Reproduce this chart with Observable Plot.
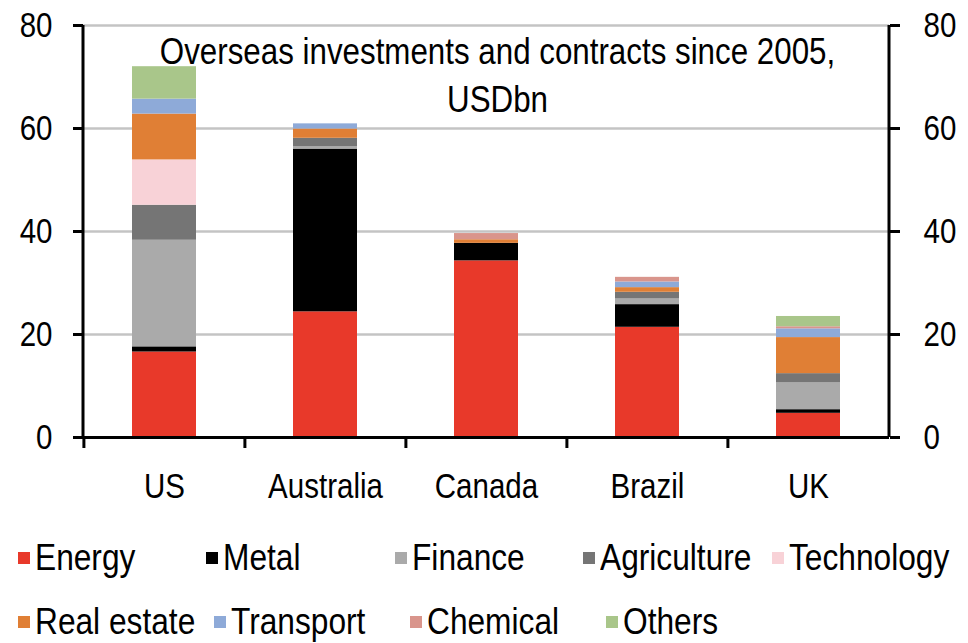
<!DOCTYPE html>
<html>
<head>
<meta charset="utf-8">
<script src="https://cdn.jsdelivr.net/npm/d3@7"></script>
<script src="https://cdn.jsdelivr.net/npm/@observablehq/plot@0.6"></script>
<style>
  html, body { margin: 0; padding: 0; background: #fff; }
  body { width: 968px; height: 643px; overflow: hidden; font-family: "Liberation Sans", Arial, sans-serif; }
  #legend { padding-top: 12px; padding-left: 18px; }
  .row { display: flex; height: 71px; align-items: center; }
  .row + .row { height: 58px; margin-top: 0; }
  .item { display: flex; align-items: center; width: 196px; font-size: 36px; line-height: 1; color: #000; white-space: nowrap; }
  .sw { width: 12px; height: 12px; margin-right: 5px; flex: none; }
  .lbl { display: inline-block; transform: scaleX(0.88); transform-origin: left center; }
</style>
</head>
<body>
<div id="chart"></div>
<div id="legend"></div>
<script>
const countries = ["US", "Australia", "Canada", "Brazil", "UK"];
const sectors = ["Energy", "Metal", "Finance", "Agriculture", "Technology", "Real estate", "Transport", "Chemical", "Others"];
const colors = ["#e8392a", "#000000", "#aaaaaa", "#757575", "#f8d2d7", "#e07f35", "#8eaad8", "#d9958c", "#a9c68a"];

const energy      = [16.6, 24.4, 34.3, 21.4, 4.7];
const metal       = [1.0, 31.6, 3.4, 4.4, 0.7];
const finance     = [20.7, 0.5, 0, 1.1, 5.2];
const agriculture = [6.8, 1.6, 0, 1.3, 1.8];
const technology  = [8.8, 0, 0, 0, 0];
const realEstate  = [8.9, 1.8, 0.7, 0.9, 7.0];
const transport   = [2.9, 1.0, 0, 1.1, 1.7];
const chemical    = [0, 0, 1.2, 0.9, 0.4];
const others      = [6.3, 0, 0, 0, 2.0];

const yTicks = [0, 20, 40, 60, 80];
const titleText = "Overseas investments and contracts since 2005,\nUSDbn";

const series = [energy, metal, finance, agriculture, technology, realEstate, transport, chemical, others];
const rows = [];
sectors.forEach((s, i) => countries.forEach((c, j) => rows.push({country: c, sector: s, value: series[i][j]})));

const font = '"Liberation Sans", Arial, sans-serif';
const W = 968, H = 510, mL = 83, mR = 79, mT = 25, mB = 73;
const step = (W - mL - mR) / countries.length;

const chart = Plot.plot({
  width: W, height: H,
  marginLeft: mL, marginRight: mR, marginTop: mT, marginBottom: mB,
  style: {fontFamily: font, fontSize: "36px", background: "#fff", color: "#000"},
  x: {domain: countries, paddingInner: 0.6, paddingOuter: 0.3, label: null},
  y: {domain: [0, 80], label: null},
  color: {domain: sectors, range: colors},
  marks: [
    Plot.gridY(yTicks, {stroke: "#c4c4c4", strokeOpacity: 1, strokeWidth: 2.5}),
    Plot.barY(rows, {x: "country", y: "value", fill: "sector", order: sectors}),
    Plot.ruleY([0], {stroke: "#000", strokeWidth: 3}),
    Plot.axisY(yTicks, {anchor: "left", tickSize: 10, tickPadding: 21, strokeWidth: 3, fontSize: 36, label: null}),
    Plot.axisY(yTicks, {anchor: "right", tickSize: 10, tickPadding: 24, strokeWidth: 3, fontSize: 36, label: null}),
    Plot.axisX({tickSize: 11, strokeWidth: 3, tickFormat: null, dx: -step / 2, label: null}),
    Plot.axisX({tickSize: 0, tickPadding: 35, fontSize: 36, label: null}),
    Plot.text([titleText], {frameAnchor: "top", text: d => d, fontSize: 36, lineAnchor: "top", lineHeight: 1.33, dy: 5, dx: 11, fill: "#000"})
  ]
});
// vertical axis lines
const svg = d3.select(chart);
svg.append("line").attr("x1", mL).attr("x2", mL).attr("y1", mT).attr("y2", H - mB).attr("stroke", "#000").attr("stroke-width", 3);
svg.append("line").attr("x1", W - mR).attr("x2", W - mR).attr("y1", mT).attr("y2", H - mB).attr("stroke", "#000").attr("stroke-width", 3);
// condense text horizontally around its anchor
svg.selectAll("text").each(function() {
  const t = this.getAttribute("transform") || "";
  const ax = +(this.getAttribute("x") || 0);
  const k = this.textContent.startsWith("Overseas") ? 0.87 : 0.82;
  this.setAttribute("transform", `${t} translate(${ax},0) scale(${k},1) translate(${-ax},0)`);
});
document.getElementById("chart").appendChild(chart);

const legend = document.getElementById("legend");
const legendRows = [sectors.slice(0, 5), sectors.slice(5)];
legendRows.forEach(r => {
  const row = document.createElement("div");
  row.className = "row";
  r.forEach(s => {
    const item = document.createElement("div");
    item.className = "item";
    const sw = document.createElement("span");
    sw.className = "sw";
    sw.style.background = colors[sectors.indexOf(s)];
    item.appendChild(sw);
    const lbl = document.createElement("span");
    lbl.className = "lbl";
    lbl.textContent = s;
    item.appendChild(lbl);
    row.appendChild(item);
  });
  legend.appendChild(row);
});
</script>
</body>
</html>
